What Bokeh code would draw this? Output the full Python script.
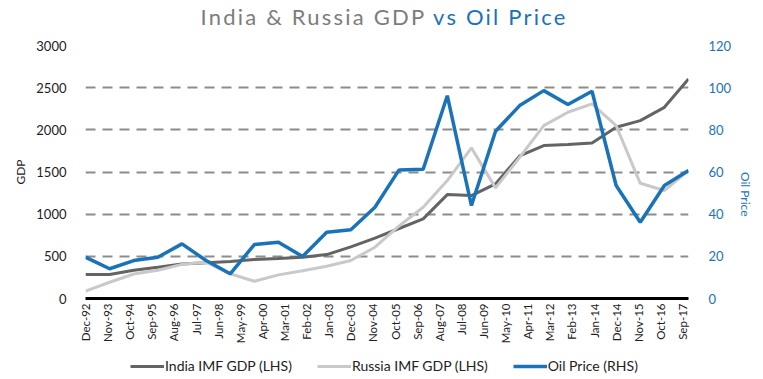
import math
from bokeh.plotting import figure
from bokeh.models import Range1d, LinearAxis, FixedTicker, Legend, LegendItem, Div
from bokeh.layouts import column
from bokeh.embed import file_html
from bokeh.resources import INLINE

# ---- data ----
years = list(range(1992, 2018))
india_gdp = [284, 284, 335, 370, 410, 425, 440, 462, 475, 490, 521, 612, 716, 830,
             944, 1232, 1220, 1359, 1690, 1813, 1825, 1845, 2030, 2109, 2267, 2603]
russia_gdp = [87, 193, 290, 335, 405, 430, 293, 205, 280, 330, 383, 450, 608, 860,
              1082, 1398, 1786, 1312, 1674, 2050, 2208, 2307, 2050, 1366, 1280, 1517]
oil_price = [19.6, 14.1, 18.0, 19.6, 25.9, 18.0, 11.7, 25.6, 26.7, 19.9, 31.4, 32.6, 43.3,
             61.0, 61.3, 96.2, 44.1, 79.3, 91.5, 98.6, 92.0, 98.3, 53.6, 36.2, 53.6, 60.7]
tick_labels = ["Dec-92", "Nov-93", "Oct-94", "Sep-95", "Aug-96", "Jul-97", "Jun-98",
               "May-99", "Apr-00", "Mar-01", "Feb-02", "Jan-03", "Dec-03", "Nov-04",
               "Oct-05", "Sep-06", "Aug-07", "Jul-08", "Jun-09", "May-10", "Apr-11",
               "Mar-12", "Feb-13", "Jan-14", "Dec-14", "Nov-15", "Oct-16", "Sep-17"]
gdp_ticks = [0, 500, 1000, 1500, 2000, 2500, 3000]
oil_ticks = [0, 20, 40, 60, 80, 100, 120]
series_names = ["India IMF GDP (LHS)", "Russia IMF GDP (LHS)", "Oil Price (RHS)"]

# months elapsed since Dec-92 (annual points, labels every 11 months)
months = [(y - years[0]) * 12 for y in years]
tick_pos = [11 * i for i in range(len(tick_labels))]

FONT = "Lato"
BLUE = "#1a73b8"
DARK = "#646464"
LIGHT = "#c9c9c9"
W = 758

p = figure(frame_width=603, frame_height=253,
           x_range=Range1d(months[0], months[-1]),
           y_range=Range1d(gdp_ticks[0], gdp_ticks[-1]),
           output_backend="svg", toolbar_location=None,
           min_border_left=85, min_border_right=70, min_border_top=13,
           min_border_bottom=0)
p.extra_y_ranges = {"oil": Range1d(oil_ticks[0], oil_ticks[-1])}
p.outline_line_color = None
p.background_fill_color = "white"
p.border_fill_color = "white"

# grid
p.xgrid.grid_line_color = None
p.ygrid.ticker = FixedTicker(ticks=gdp_ticks)
p.ygrid.grid_line_color = "#8c8c8c"
p.ygrid.grid_line_width = 2
p.ygrid.grid_line_dash = "10 7"

# x axis
xa = p.xaxis[0]
xa.ticker = FixedTicker(ticks=tick_pos)
xa.major_label_overrides = {pos: lab for pos, lab in zip(tick_pos, tick_labels)}
xa.major_label_orientation = math.pi / 2
xa.major_label_text_font = FONT
xa.major_label_text_font_size = "11.5px"
xa.major_label_text_color = "#222222"
xa.major_label_standoff = 5
xa.axis_line_color = "black"
xa.axis_line_width = 3
xa.major_tick_line_color = None
xa.minor_tick_line_color = None
xa.major_tick_out = 0
xa.major_tick_in = 0
xa.minor_tick_out = 0

# left axis
ya = p.yaxis[0]
ya.ticker = FixedTicker(ticks=gdp_ticks)
ya.axis_label = "GDP"
ya.axis_label_text_font = FONT
ya.axis_label_text_font_style = "normal"
ya.axis_label_text_font_size = "12px"
ya.axis_label_text_color = "#222222"
ya.axis_label_standoff = 5
ya.major_label_text_font = FONT
ya.major_label_text_font_size = "13px"
ya.major_label_text_color = "#222222"
ya.major_label_standoff = 13
ya.axis_line_color = None
ya.major_tick_line_color = None
ya.minor_tick_line_color = None

# right axis
ra = LinearAxis(y_range_name="oil", ticker=FixedTicker(ticks=oil_ticks), axis_label="Oil Price")
ra.axis_label_text_font = FONT
ra.axis_label_text_font_style = "normal"
ra.axis_label_text_font_size = "12px"
ra.axis_label_text_color = BLUE
ra.axis_label_standoff = 11
ra.axis_label_orientation = -math.pi / 2
ra.axis_label_text_align = "center"
ra.major_label_text_font = FONT
ra.major_label_text_font_size = "13px"
ra.major_label_text_color = BLUE
ra.major_label_standoff = 14
ra.axis_line_color = None
ra.major_tick_line_color = None
ra.minor_tick_line_color = None
p.add_layout(ra, "right")

p.line(months, india_gdp, line_color=DARK, line_width=3)
p.line(months, russia_gdp, line_color=LIGHT, line_width=3)
p.line(months, oil_price, line_color=BLUE, line_width=3.5, y_range_name="oil")

# ---- legend strip below the chart ----
lg = figure(width=W, height=28, x_range=Range1d(0, 1), y_range=Range1d(0, 1),
            output_backend="svg", toolbar_location=None, min_border=0)
lg.axis.visible = False
lg.grid.visible = False
lg.outline_line_color = None
l1 = lg.line([0], [0], line_color=DARK, line_width=3)
l2 = lg.line([0], [0], line_color=LIGHT, line_width=3)
l3 = lg.line([0], [0], line_color=BLUE, line_width=3.5)
legend = Legend(items=[LegendItem(label=series_names[0], renderers=[l1]),
                       LegendItem(label=series_names[1], renderers=[l2]),
                       LegendItem(label=series_names[2], renderers=[l3])],
                orientation="horizontal", location=(45, 0),
                glyph_width=34, glyph_height=14, label_standoff=1, spacing=25,
                border_line_color=None, background_fill_alpha=0,
                label_text_font=FONT, label_text_font_size="14px",
                label_text_color="#222222", margin=0, padding=2)
lg.add_layout(legend, "center")

title = Div(text='<span style="color:#7c7c7c">India &amp; Russia GDP</span> '
                 '<span style="color:#1a73b8">vs Oil Price</span>',
            width=W, height=32, margin=(0, 0, 0, 0),
            styles={"font-family": "Lato", "font-size": "22px", "text-align": "center",
                    "line-height": "33px", "width": "758px", "padding-left": "10px",
                    "letter-spacing": "2.2px"})

layout = column(title, p, lg, spacing=0)
open("out.html", "w").write(file_html(layout, INLINE))
